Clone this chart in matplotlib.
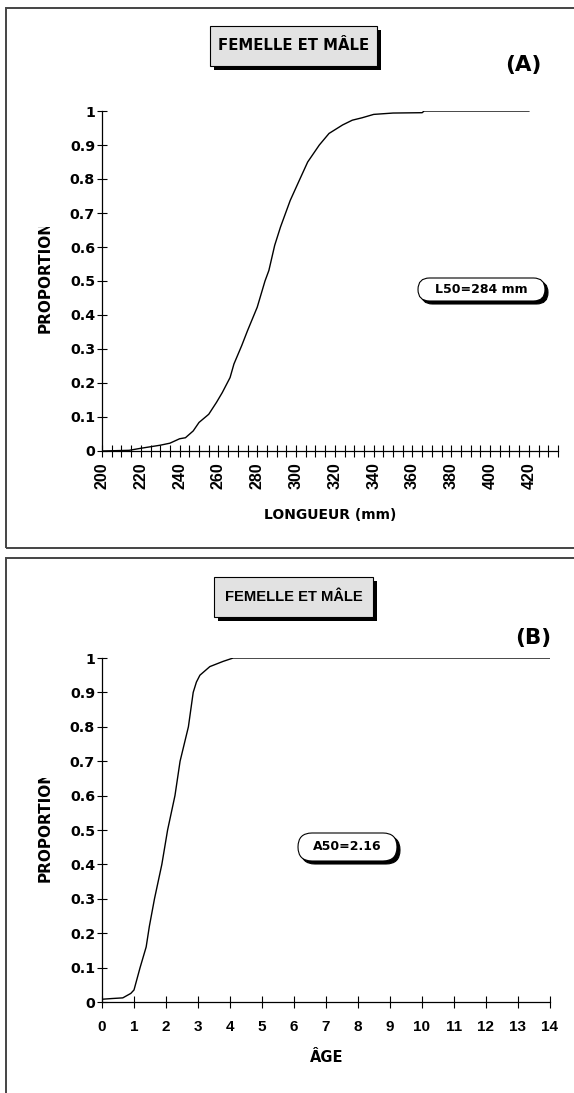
import numpy as np
import matplotlib
matplotlib.use('Agg')
from matplotlib import pyplot as plt
from matplotlib.patches import Rectangle, FancyBboxPatch
from matplotlib.transforms import Bbox, TransformedBbox

plt.rcParams['font.family'] = ['Liberation Sans', 'DejaVu Sans']
plt.rcParams['font.weight'] = 'bold'

# (A) proportion mature vs length (mm)
longueur = [200, 214, 220, 230, 235, 240, 243, 247, 250, 255, 259, 262, 266, 268,
            272, 275, 280, 284, 286, 289, 292, 297, 302, 306, 312, 317, 324, 329,
            334, 340, 350, 365, 366, 420]
prop_long = [0, 0.002, 0.008, 0.017, 0.023, 0.036, 0.039, 0.059, 0.084, 0.108, 0.143,
             0.172, 0.216, 0.256, 0.31, 0.354, 0.423, 0.5, 0.531, 0.605, 0.659, 0.737,
             0.80, 0.85, 0.90, 0.934, 0.959, 0.973, 0.98, 0.99, 0.994, 0.995, 1.0, 1.0]

# (B) proportion mature vs age
age = [0, 0.3, 0.65, 0.9, 1.0, 1.19, 1.38, 1.48, 1.64, 1.87, 2.05, 2.28, 2.44, 2.7,
       2.85, 2.95, 3.06, 3.37, 3.78, 4.1, 14]
prop_age = [0.008, 0.01, 0.012, 0.025, 0.035, 0.1, 0.16, 0.22, 0.3, 0.4, 0.5, 0.6,
            0.7, 0.8, 0.9, 0.93, 0.95, 0.975, 0.99, 1.0, 1.0]

long_ticks = list(range(200, 421, 20))
age_ticks = list(range(0, 15))
prop_ticks = [0, 0.1, 0.2, 0.3, 0.4, 0.5, 0.6, 0.7, 0.8, 0.9, 1]

titre = 'FEMELLE ET MÂLE'

W, H = 574, 1093
fig = plt.figure(figsize=(W / 100, H / 100), dpi=100)

WIDE = 'DejaVu Sans'      # the chart text is stretched sideways, DejaVu is wider
ARIAL = 'Liberation Sans'


def fx(px):
    return px / W


def fy(py):
    return 1 - py / H


def inch(px, py):
    # pixel position (top-left origin) -> inches for dpi_scale_trans
    return px / 100, (H - py) / 100


def style_axes(ax):
    for s in ['top', 'right']:
        ax.spines[s].set_visible(False)
    for s in ['left', 'bottom']:
        ax.spines[s].set_color('black')
        ax.spines[s].set_linewidth(0.9)
    ax.set_ylim(0, 1)
    ax.set_yticks(prop_ticks)
    ax.set_yticklabels([f'{v:g}' for v in prop_ticks], fontsize=10.3,
                       fontweight='bold', family=WIDE)
    ax.tick_params(axis='y', direction='inout', length=7, width=0.8, pad=1.5)
    ax.patch.set_alpha(0)


def title_box(x0, y0, x1, y1, size, fam):
    sh = 4
    w, h = (x1 - x0) / 100, (y1 - y0) / 100
    bx, by = inch(x0 + sh, y1 + sh)
    fig.patches.append(Rectangle((bx, by), w, h, transform=fig.dpi_scale_trans,
                                 fc='black', ec='black', lw=0))
    bx, by = inch(x0, y1)
    fig.patches.append(Rectangle((bx, by), w, h, transform=fig.dpi_scale_trans,
                                 fc='#e2e2e2', ec='black', lw=0.8))
    fig.text(fx((x0 + x1) / 2), fy((y0 + y1) / 2), titre, ha='center', va='center',
             fontsize=size, fontweight='bold', family=fam)


def pill(x0, y0, x1, y1, txt):
    sh = 3
    w, h = (x1 - x0) / 100, (y1 - y0) / 100
    for off, fc in [(sh, 'black'), (0, 'white')]:
        bx, by = inch(x0 + off, y1 + off)
        fig.patches.append(FancyBboxPatch((bx, by), w, h, transform=fig.dpi_scale_trans,
                                          boxstyle=f'round,pad=0,rounding_size={h / 2}',
                                          fc=fc, ec='black', lw=0.8))
    fig.text(fx((x0 + x1) / 2), fy((y0 + y1) / 2), txt, ha='center', va='center',
             fontsize=9, fontweight='bold', family=WIDE)


def ylabel(py_bottom, py_clip):
    # the original label is cut off at its top end
    t = fig.text(fx(45), fy(py_bottom), 'PROPORTION', rotation=90, ha='center',
                 va='bottom', fontsize=11, fontweight='bold', family=WIDE)
    clip = Bbox([[0, fy(py_bottom) - 0.05], [fx(100), fy(py_clip)]])
    t.set_clip_box(TransformedBbox(clip, fig.transFigure))
    t.set_clip_on(True)


# panel frames
for top, bot in [(8, 548), (558, 1110)]:
    fig.patches.append(Rectangle((fx(6), fy(bot)), 1.1, fy(top) - fy(bot),
                                 transform=fig.transFigure, fc='none',
                                 ec='#444444', lw=1.4, clip_on=False))

# panel A
axA = fig.add_axes([fx(102), fy(451), fx(558) - fx(102), fy(111) - fy(451)])
axA.plot(longueur, prop_long, color='black', lw=1)
style_axes(axA)
axA.set_xlim(200, 435)
axA.set_xticks(long_ticks)
axA.set_xticklabels([str(v) for v in long_ticks], rotation=90, fontsize=11.5,
                    fontweight='bold', family=ARIAL)
axA.set_xticks(np.arange(200, 436, 5), minor=True)
axA.tick_params(axis='x', which='both', direction='inout', length=8, width=0.8, pad=4)
fig.text(fx(330), fy(515), 'LONGUEUR (mm)', ha='center', va='center',
         fontsize=10, fontweight='bold', family=WIDE)
ylabel(333, 227)
title_box(210, 26, 377, 66, 10.7, WIDE)
fig.text(fx(523), fy(65), '(A)', ha='center', va='center', fontsize=15.5,
         fontweight='bold', family=WIDE)
pill(418, 278, 545, 301, 'L50=284 mm')

# panel B
axB = fig.add_axes([fx(102), fy(1002), fx(550) - fx(102), fy(658) - fy(1002)])
axB.plot(age, prop_age, color='black', lw=1)
style_axes(axB)
axB.set_xlim(0, 14)
axB.set_xticks(age_ticks)
axB.set_xticklabels([str(v) for v in age_ticks], fontsize=11, fontweight='bold',
                    family=ARIAL)
axB.tick_params(axis='x', direction='inout', length=8, width=0.8, pad=9)
fig.text(fx(327), fy(1058), 'ÂGE', ha='center', va='center', fontsize=10.5,
         fontweight='bold', family=WIDE)
ylabel(882, 778)
title_box(214, 577, 373, 617, 10.6, ARIAL)
fig.text(fx(533), fy(638), '(B)', ha='center', va='center', fontsize=15.5,
         fontweight='bold', family=WIDE)
pill(298, 833, 397, 861, 'A50=2.16')

fig.savefig('out.png', dpi=100)
